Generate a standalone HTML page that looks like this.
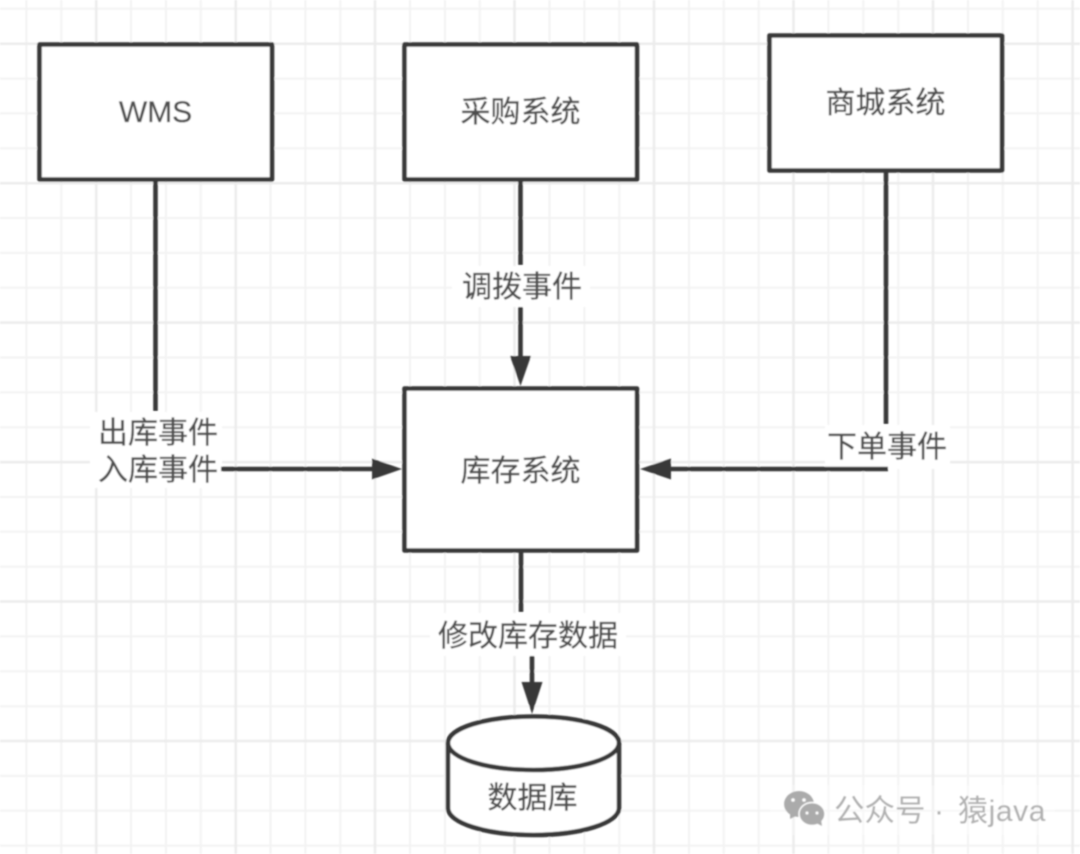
<!DOCTYPE html>
<html><head><meta charset="utf-8"><style>
html,body{margin:0;padding:0;background:#fff;width:1080px;height:854px;overflow:hidden}
svg{display:block}
text{font-family:"Liberation Sans","Noto Sans CJK SC",sans-serif;font-size:30px;fill:#4e4e4e;stroke:#4e4e4e;stroke-width:.3;text-anchor:middle}
text.w{font-size:30px;fill:#b0b0b0;stroke:none}
</style></head><body>
<svg width="1080" height="854" viewBox="0 0 1080 854" xmlns="http://www.w3.org/2000/svg">
<defs><filter id="b" x="-5%" y="-5%" width="110%" height="110%"><feGaussianBlur stdDeviation="0.8"/></filter></defs>
<rect width="1080" height="854" fill="#fff"/>
<g filter="url(#b)">
<g stroke="#f3f3f3" stroke-width="2" fill="none">
<path d="M26.4 0V854M61.3 0V854M131 0V854M165.9 0V854M200.8 0V854M270.5 0V854M305.4 0V854M340.3 0V854M410 0V854M444.9 0V854M479.8 0V854M549.5 0V854M584.4 0V854M619.2 0V854M689 0V854M723.8 0V854M758.7 0V854M828.4 0V854M863.3 0V854M898.2 0V854M968 0V854M1002.8 0V854M1037.7 0V854"/>
<path d="M0 8.8H1080M0 78.6H1080M0 113.4H1080M0 148.3H1080M0 218H1080M0 252.9H1080M0 287.8H1080M0 357.5H1080M0 392.4H1080M0 427.2H1080M0 497H1080M0 531.8H1080M0 566.7H1080M0 636.4H1080M0 671.3H1080M0 706.2H1080M0 775.9H1080M0 810.8H1080M0 845.6H1080"/>
</g>
<g stroke="#ececec" stroke-width="2.5" fill="none">
<path d="M96.2 0V854M235.7 0V854M375 0V854M514.5 0V854M654 0V854M793.5 0V854M933 0V854M1072.6 0V854"/>
<path d="M0 43.7H1080M0 183.2H1080M0 322.6H1080M0 462.1H1080M0 601.5H1080M0 741H1080"/>
</g>
<!-- label backgrounds -->
<g fill="#fff">
<rect x="90" y="412" width="132" height="76"/>
<rect x="452" y="266" width="138" height="41"/>
<rect x="825" y="425" width="125" height="44"/>
<rect x="430" y="613" width="196" height="43"/>
<rect x="770" y="785" width="285" height="50" opacity=".35"/>
</g>
<!-- boxes -->
<g fill="#fff" stroke="#383838" stroke-width="4.6" stroke-linejoin="round">
<rect x="39.5" y="44.5" width="232.500" height="135"/>
<rect x="404.500" y="44.5" width="232.500" height="135"/>
<rect x="769.500" y="35.5" width="232.500" height="135"/>
<rect x="404.500" y="388.5" width="232.500" height="162"/>
<path d="M448 743C448 728 486 716.500 533.500 716.500C581 716.500 619 728 619 743V808C619 823 581 835 533.500 835C486 835 448 823 448 808Z"/>
<path d="M448 743C448 758 486 770 533.500 770C581 770 619 758 619 743" fill="none"/>
</g>
<!-- connectors -->
<g stroke="#383838" stroke-width="4.6" fill="none">
<path d="M155.500 179V411"/>
<path d="M221 469H378"/>
<path d="M520.500 179V265"/>
<path d="M520.500 307V360"/>
<path d="M886 170V424"/>
<path d="M888 469H665"/>
<path d="M521 550V612"/>
<path d="M532 656V686"/>
</g>
<g fill="#383838">
<path d="M402 469L372 458.500V479.500Z"/>
<path d="M520.500 386L510 356H531Z"/>
<path d="M640 469L671 458.500V479.500Z"/>
<path d="M532 714L521.500 682H542.500Z"/>
</g>
<!-- labels -->
<text x="155.500" y="122">WMS</text>
<text x="520.500" y="122">采购系统</text>
<text x="885.500" y="113">商城系统</text>
<text x="520.500" y="481">库存系统</text>
<text x="532.500" y="808">数据库</text>
<text x="158" y="443">出库事件</text>
<text x="158" y="480">入库事件</text>
<text x="522" y="297">调拨事件</text>
<text x="887" y="457">下单事件</text>
<text x="528" y="646">修改库存数据</text>
<!-- watermark -->
<g fill="#ababab">
<ellipse cx="799" cy="804" rx="15" ry="13"/>
<path d="M790 813L790 819L798 815Z"/>
<ellipse cx="812" cy="814" rx="13" ry="11.500" stroke="#fff" stroke-width="1.500"/>
<path d="M816 823L822 826L821 819Z"/>
</g>
<g fill="#fff"><circle cx="793" cy="800" r="1.800"/><circle cx="804" cy="800" r="1.800"/><circle cx="807" cy="813" r="1.500"/><circle cx="817" cy="813" r="1.500"/></g>
<text class="w" x="834" y="821" style="text-anchor:start;font-size:30.500px">公众号</text>
<text class="w" x="939" y="821">·</text>
<text class="w" x="958" y="821" style="text-anchor:start;letter-spacing:.6px">猿java</text>
</g>
</svg>
</body></html>
